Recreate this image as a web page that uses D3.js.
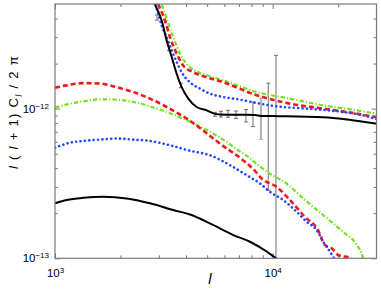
<!DOCTYPE html>
<html>
<head>
<meta charset="utf-8">
<script src="https://cdn.jsdelivr.net/npm/d3@7"></script>
<style>
body { margin: 0; background: #fff; }
svg, svg text { font-family: "Liberation Sans", Arial, Helvetica, sans-serif; }
svg { display: block; }
</style>
</head>
<body>
<div id="chart-area"></div>
<script>
// all spectra in units of 1e-12
const UNIT = 1e-12

// upper branch (signal + noise)
const ellBlackTot = [2790, 2880, 3091, 3259, 3437, 3622, 3819, 4096, 4476, 4976, 5335, 5727, 7076, 8293, 8929, 10802, 17024, 21483, 25177, 30000]
const blackTot    = [5.54, 4.96, 3.88, 2.85, 2.21, 1.71, 1.39, 1.166, 1.025, 0.974, 0.93, 0.915, 0.91, 0.908, 0.893, 0.89, 0.875, 0.849, 0.823, 0.794]

const ellRedTot = [2880, 2982, 3201, 3376, 3622, 3884, 4318, 4976, 5850, 8443, 12010, 17078, 24311, 30000]
const redTot    = [5.6, 4.96, 3.88, 3.0, 2.33, 1.94, 1.75, 1.62, 1.51, 1.23, 1.08, 1.0, 0.926, 0.875]

const ellGreenTot = [2988, 3091, 3495, 3751, 4096, 4552, 4976, 5931, 8443, 12010, 17078, 24311, 30000]
const greenTot    = [5.69, 4.96, 3.0, 2.33, 1.94, 1.75, 1.67, 1.545, 1.29, 1.166, 1.052, 0.974, 0.925]

const ellBlueTot = [2865, 2982, 3091, 3259, 3437, 3622, 3819, 4170, 4634, 5152, 5931, 7076, 8443, 10433, 14330, 20376, 26075, 30000]
const blueTot    = [5.27, 4.30, 3.59, 3.0, 2.45, 2.05, 1.75, 1.50, 1.36, 1.26, 1.195, 1.148, 1.09, 1.036, 1.0, 0.955, 0.902, 0.85]

// lower branch (signal only)
const ellBlackSig = [1000, 1132, 1349, 1667, 2135, 2732, 3495, 4170, 5152, 6592, 7865, 9384, 10356, 10802]
const blackSig    = [0.233, 0.245, 0.2535, 0.2575, 0.251, 0.233, 0.21, 0.196, 0.171, 0.143, 0.129, 0.111, 0.1, 0.0959]

const ellRedSig = [1000, 1132, 1349, 1609, 1920, 2289, 2732, 3259, 4027, 6148, 6833, 7461, 8293, 8902, 10433, 12010, 14076, 16148, 17388, 18666, 20012, 22894, 23878]
const redSig    = [1.38, 1.43, 1.48, 1.47, 1.39, 1.29, 1.166, 1.025, 0.858, 0.541, 0.488, 0.441, 0.384, 0.341, 0.30, 0.245, 0.189, 0.1545, 0.1227, 0.1166, 0.1052, 0.1, 0.0945]

const ellGreenSig = [1000, 1132, 1349, 1609, 1920, 2289, 2732, 3259, 4027, 6148, 6950, 7725, 8587, 9616, 11597, 13826, 17078, 21100, 24311, 25907, 26268]
const greenSig    = [1.015, 1.068, 1.119, 1.153, 1.148, 1.107, 1.036, 0.949, 0.836, 0.599, 0.527, 0.476, 0.419, 0.371, 0.316, 0.251, 0.194, 0.150, 0.123, 0.1025, 0.0945]

const ellBlueSig = [1000, 1172, 1349, 1609, 1920, 2289, 2732, 3376, 4170, 5152, 6366, 7596, 8743, 9718, 11187, 12892, 14330, 15925, 17078, 18333, 19125, 19535]
const blueSig    = [0.548, 0.592, 0.608, 0.621, 0.631, 0.621, 0.608, 0.569, 0.523, 0.488, 0.419, 0.359, 0.316, 0.278, 0.245, 0.2045, 0.1754, 0.1545, 0.129, 0.1107, 0.1, 0.0945]

// error bars on the black total
const errEll = [2942, 3340, 3791, 5433, 5788, 6233, 6783, 7540, 8119, 8836, 9546, 10356]
const errLo  = [3.90, 2.44, 1.38, 0.889, 0.879, 0.875, 0.858, 0.814, 0.758, 0.621, 0.285, 0.05]
const errHi  = [4.22, 2.63, 1.48, 0.945, 0.959, 0.974, 0.964, 0.985, 1.107, 1.17, 1.48, 2.27]

// ticks
const xMajorTicks = [1e3, 1e4]
const xMinorTicks = [2e3, 3e3, 4e3, 5e3, 6e3, 7e3, 8e3, 9e3, 2e4]
const yMajorTicks = [1e-13, 1e-12]
const yMinorTicks = [2e-13, 3e-13, 4e-13, 5e-13, 6e-13, 7e-13, 8e-13, 9e-13, 2e-12, 3e-12, 4e-12]

const MARGIN = { LEFT: 55, RIGHT: 4.5, TOP: 4, BOTTOM: 32.7 }
const WIDTH = 381 - MARGIN.LEFT - MARGIN.RIGHT
const HEIGHT = 291 - MARGIN.TOP - MARGIN.BOTTOM

const svg = d3.select("#chart-area").append("svg")
    .attr("width", 381)
    .attr("height", 291)

const g = svg.append("g")
    .attr("transform", `translate(${MARGIN.LEFT}, ${MARGIN.TOP})`)

const x = d3.scaleLog().domain([1e3, 3e4]).range([0, WIDTH])
const y = d3.scaleLog().domain([1e-13, 5e-12]).range([HEIGHT, 0])

g.append("clipPath")
    .attr("id", "clip")
    .append("rect")
        .attr("width", WIDTH)
        .attr("height", HEIGHT)

const AXIS_COLOR = "#7a7a7a"

// axes, ticks pointing inward on all four sides
function styleAxis(sel) {
    sel.attr("font-family", null).attr("font-size", null)
    sel.select(".domain").remove()
    sel.selectAll(".tick line").attr("stroke", AXIS_COLOR)
}
g.append("g").attr("transform", `translate(0, ${HEIGHT})`)
    .call(d3.axisBottom(x).tickValues(xMinorTicks).tickSize(-3).tickFormat("")).call(styleAxis)
g.append("g")
    .call(d3.axisTop(x).tickValues(xMinorTicks).tickSize(-3).tickFormat("")).call(styleAxis)
g.append("g")
    .call(d3.axisTop(x).tickValues(xMajorTicks).tickSize(-5).tickFormat("")).call(styleAxis)
g.append("g")
    .call(d3.axisLeft(y).tickValues(yMinorTicks).tickSize(-3).tickFormat("")).call(styleAxis)
g.append("g").attr("transform", `translate(${WIDTH}, 0)`)
    .call(d3.axisRight(y).tickValues(yMinorTicks).tickSize(-3).tickFormat("")).call(styleAxis)
g.append("g").attr("transform", `translate(${WIDTH}, 0)`)
    .call(d3.axisRight(y).tickValues(yMajorTicks).tickSize(-5).tickFormat("")).call(styleAxis)

function powLabel(sel) {
    sel.selectAll(".tick text").each(function(d) {
        const t = d3.select(this).text("").attr("fill", "#000").style("font-size", "11.5px")
        const e = Math.round(Math.log10(d))
        t.append("tspan").text("10")
        t.append("tspan").attr("dy", "-0.5em").style("font-size", "8px")
            .text(e < 0 ? "\u2212" + (-e) : e)
    })
}
const xAxis = g.append("g").attr("transform", `translate(0, ${HEIGHT})`)
    .call(d3.axisBottom(x).tickValues(xMajorTicks).tickSize(-5).tickPadding(11))
    .call(styleAxis).call(powLabel)
const yAxis = g.append("g")
    .call(d3.axisLeft(y).tickValues(yMajorTicks).tickSize(-5).tickPadding(6))
    .call(styleAxis).call(powLabel)

// line generator
const line = d3.line()
    .curve(d3.curveMonotoneX)
    .x(d => x(d[0]))
    .y(d => y(d[1] * UNIT))

const zip = (a, b) => a.map((v, i) => [v, b[i]])

// error bars
const bars = g.append("g").attr("clip-path", "url(#clip)")
errEll.forEach((l, i) => {
    const light = i === 9
    const col = light ? "#b4b4b4" : "#6e6e6e"
    const xx = x(l)
    bars.append("line")
        .attr("x1", xx).attr("x2", xx)
        .attr("y1", y(errLo[i] * UNIT)).attr("y2", y(errHi[i] * UNIT))
        .attr("stroke", col).attr("stroke-width", light ? 2.2 : 1)
    ;[errLo[i], errHi[i]].forEach(v => {
        bars.append("line")
            .attr("x1", xx - 2).attr("x2", xx + 2)
            .attr("y1", y(v * UNIT)).attr("y2", y(v * UNIT))
            .attr("stroke", col).attr("stroke-width", 1)
    })
})

const RED = "#f2161a", GREEN = "#72e31c", BLUE = "#2448ff"
const styles = {
    black: { color: "#000", width: 2, dash: null, cap: "butt" },
    red:   { color: RED, width: 2.6, dash: "5,3", cap: "butt" },
    green: { color: GREEN, width: 2.2, dash: "4.5,2,1.2,2", cap: "butt" },
    blue:  { color: BLUE, width: 2.6, dash: "0.1,4.3", cap: "round" }
}
const curves = [
    { s: styles.green, d: zip(ellGreenSig, greenSig) },
    { s: styles.red,   d: zip(ellRedSig, redSig) },
    { s: styles.blue,  d: zip(ellBlueSig, blueSig) },
    { s: styles.green, d: zip(ellGreenTot, greenTot) },
    { s: styles.red,   d: zip(ellRedTot, redTot) },
    { s: styles.blue,  d: zip(ellBlueTot, blueTot) },
    { s: styles.black, d: zip(ellBlackSig, blackSig) },
    { s: styles.black, d: zip(ellBlackTot, blackTot) }
]
curves.forEach(c => {
    g.append("path")
        .attr("clip-path", "url(#clip)")
        .attr("fill", "none")
        .attr("stroke", c.s.color)
        .attr("stroke-width", c.s.width)
        .attr("stroke-dasharray", c.s.dash)
        .attr("stroke-linecap", c.s.cap)
        .attr("d", line(c.d))
})

// frame
g.append("rect")
    .attr("width", WIDTH).attr("height", HEIGHT)
    .attr("fill", "none").attr("stroke", AXIS_COLOR).attr("stroke-width", 1.2)

// axis titles
const yt = svg.append("text")
    .attr("transform", `translate(18, 112) rotate(-90)`)
    .attr("text-anchor", "middle")
    .style("font-size", "13px")
    .style("letter-spacing", "1.3px")
yt.append("tspan").style("font-style", "italic").text("l")
yt.append("tspan").text(" ( ")
yt.append("tspan").style("font-style", "italic").text("l")
yt.append("tspan").text(" + 1) C")
yt.append("tspan").style("font-style", "italic").style("font-size", "9px").attr("dy", 4).text("l")
yt.append("tspan").attr("dy", -4).text(" / 2 \u03c0")

svg.append("text")
    .attr("x", 210).attr("y", 284)
    .attr("text-anchor", "middle")
    .style("font-size", "15px")
    .style("font-style", "italic")
    .text("l")
</script>
</body>
</html>
